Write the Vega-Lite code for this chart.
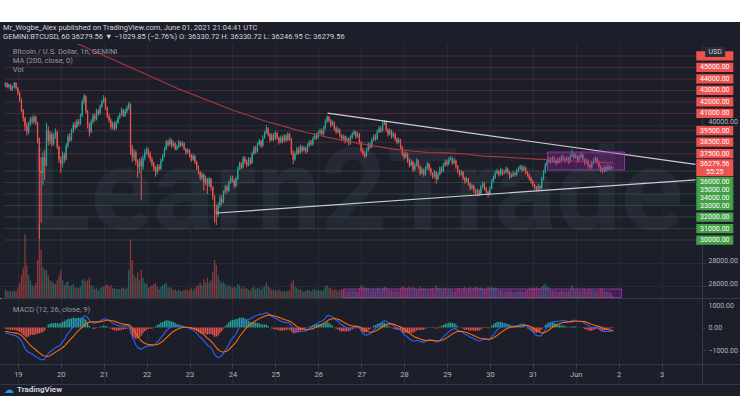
{
"$schema":"https://vega.github.io/schema/vega-lite/v6.json",
"background":"#ffffff",
"padding":{"top":22,"left":0,"right":0,"bottom":0},
"spacing":0,
"config":{"font":"Roboto","view":{"stroke":null,"fill":"#1c1f2a"}},
"datasets":{
"bars":[
{"t":-7,"o":43400,"h":43750,"l":43300,"c":43600,"v":320,"m":-230,"s":-170,"d":-60},
{"t":-6,"o":43600,"h":43700,"l":43200,"c":43300,"v":280,"m":-260,"s":-180,"d":-80},
{"t":-5,"o":43300,"h":43600,"l":43150,"c":43500,"v":260,"m":-290,"s":-200,"d":-90},
{"t":-4,"o":43500,"h":43550,"l":42950,"c":43100,"v":300,"m":-310,"s":-210,"d":-100},
{"t":-3,"o":43100,"h":43400,"l":43000,"c":43300,"v":240,"m":-330,"s":-230,"d":-100},
{"t":-2,"o":43300,"h":43750,"l":43200,"c":43650,"v":310,"m":-350,"s":-240,"d":-110},
{"t":-1,"o":43650,"h":43700,"l":43100,"c":43200,"v":280,"m":-380,"s":-250,"d":-130},
{"t":0,"o":43200,"h":43300,"l":42600,"c":42800,"v":420,"m":-420,"s":-270,"d":-150},
{"t":1,"o":42800,"h":42900,"l":42000,"c":42200,"v":600,"m":-500,"s":-300,"d":-200},
{"t":2,"o":42200,"h":42300,"l":41100,"c":41300,"v":900,"m":-600,"s":-350,"d":-250},
{"t":3,"o":41300,"h":41400,"l":40300,"c":40600,"v":1200,"m":-760,"s":-430,"d":-330},
{"t":4,"o":40600,"h":40700,"l":39500,"c":39900,"v":2500,"m":-920,"s":-520,"d":-400},
{"t":5,"o":39900,"h":40200,"l":39100,"c":39400,"v":1300,"m":-1040,"s":-600,"d":-440},
{"t":6,"o":39400,"h":40300,"l":39200,"c":40100,"v":900,"m":-1100,"s":-700,"d":-400},
{"t":7,"o":40100,"h":40700,"l":39900,"c":40500,"v":700,"m":-1130,"s":-790,"d":-340},
{"t":8,"o":40500,"h":40800,"l":40100,"c":40300,"v":500,"m":-1180,"s":-860,"d":-320},
{"t":9,"o":40300,"h":40900,"l":40100,"c":40700,"v":450,"m":-1250,"s":-920,"d":-330},
{"t":10,"o":40700,"h":40800,"l":40000,"c":40200,"v":600,"m":-1290,"s":-990,"d":-300},
{"t":11,"o":40200,"h":40300,"l":38400,"c":38800,"v":1500,"m":-1340,"s":-1060,"d":-280},
{"t":12,"o":38800,"h":38900,"l":30100,"c":36000,"v":2900,"m":-1390,"s":-1130,"d":-260},
{"t":13,"o":36000,"h":37200,"l":31500,"c":35800,"v":1900,"m":-1420,"s":-1190,"d":-230},
{"t":14,"o":35800,"h":37600,"l":34800,"c":37200,"v":1200,"m":-1440,"s":-1240,"d":-200},
{"t":15,"o":37200,"h":37800,"l":35200,"c":36500,"v":1100,"m":-1400,"s":-1270,"d":-130},
{"t":16,"o":36500,"h":40200,"l":36400,"c":39500,"v":1100,"m":-1280,"s":-1290,"d":10},
{"t":17,"o":39500,"h":39900,"l":38200,"c":38600,"v":900,"m":-1160,"s":-1290,"d":130},
{"t":18,"o":38600,"h":39500,"l":38300,"c":39200,"v":700,"m":-1080,"s":-1250,"d":170},
{"t":19,"o":39200,"h":39400,"l":38100,"c":38400,"v":650,"m":-1010,"s":-1200,"d":190},
{"t":20,"o":38400,"h":39300,"l":38200,"c":39000,"v":600,"m":-960,"s":-1150,"d":190},
{"t":21,"o":39000,"h":39700,"l":38800,"c":39400,"v":550,"m":-900,"s":-1100,"d":200},
{"t":22,"o":39400,"h":39500,"l":37900,"c":38100,"v":700,"m":-860,"s":-1050,"d":190},
{"t":23,"o":38100,"h":38200,"l":36700,"c":37000,"v":900,"m":-820,"s":-1000,"d":180},
{"t":24,"o":37000,"h":37300,"l":35800,"c":36600,"v":1100,"m":-760,"s":-950,"d":190},
{"t":25,"o":36600,"h":37700,"l":36300,"c":37400,"v":700,"m":-640,"s":-890,"d":250},
{"t":26,"o":37400,"h":37600,"l":36700,"c":37000,"v":500,"m":-540,"s":-830,"d":290},
{"t":27,"o":37000,"h":38400,"l":36900,"c":38200,"v":600,"m":-390,"s":-740,"d":350},
{"t":28,"o":38200,"h":39200,"l":38000,"c":39000,"v":650,"m":-260,"s":-650,"d":390},
{"t":29,"o":39000,"h":39300,"l":38500,"c":38700,"v":450,"m":-170,"s":-560,"d":390},
{"t":30,"o":38700,"h":39700,"l":38600,"c":39500,"v":500,"m":-60,"s":-470,"d":410},
{"t":31,"o":39500,"h":40200,"l":39300,"c":40000,"v":550,"m":50,"s":-390,"d":440},
{"t":32,"o":40000,"h":40300,"l":39600,"c":39800,"v":400,"m":120,"s":-300,"d":420},
{"t":33,"o":39800,"h":40500,"l":39700,"c":40300,"v":420,"m":220,"s":-200,"d":420},
{"t":34,"o":40300,"h":40500,"l":39900,"c":40100,"v":380,"m":300,"s":-130,"d":430},
{"t":35,"o":40100,"h":41000,"l":40000,"c":40800,"v":450,"m":370,"s":-60,"d":430},
{"t":36,"o":40800,"h":42200,"l":40700,"c":42000,"v":700,"m":440,"s":20,"d":420},
{"t":37,"o":42000,"h":42700,"l":41800,"c":42500,"v":750,"m":500,"s":90,"d":410},
{"t":38,"o":42500,"h":42600,"l":41000,"c":41200,"v":650,"m":510,"s":160,"d":350},
{"t":39,"o":41200,"h":41300,"l":39700,"c":40000,"v":700,"m":440,"s":210,"d":230},
{"t":40,"o":40000,"h":40200,"l":39000,"c":39400,"v":800,"m":320,"s":240,"d":80},
{"t":41,"o":39400,"h":40500,"l":39300,"c":40300,"v":500,"m":250,"s":250,"d":0},
{"t":42,"o":40300,"h":41000,"l":40100,"c":40800,"v":450,"m":200,"s":250,"d":-50},
{"t":43,"o":40800,"h":41000,"l":40300,"c":40500,"v":350,"m":190,"s":250,"d":-60},
{"t":44,"o":40500,"h":41400,"l":40400,"c":41200,"v":400,"m":220,"s":250,"d":-30},
{"t":45,"o":41200,"h":41400,"l":40800,"c":41000,"v":300,"m":240,"s":250,"d":-10},
{"t":46,"o":41000,"h":41800,"l":40900,"c":41600,"v":380,"m":290,"s":260,"d":30},
{"t":47,"o":41600,"h":42200,"l":41500,"c":42000,"v":420,"m":330,"s":270,"d":60},
{"t":48,"o":42000,"h":42600,"l":41900,"c":42300,"v":450,"m":380,"s":290,"d":90},
{"t":49,"o":42300,"h":42400,"l":41300,"c":41500,"v":500,"m":380,"s":310,"d":70},
{"t":50,"o":41500,"h":41600,"l":40600,"c":40800,"v":550,"m":360,"s":320,"d":40},
{"t":51,"o":40800,"h":41000,"l":40200,"c":40400,"v":450,"m":310,"s":320,"d":-10},
{"t":52,"o":40400,"h":40600,"l":39600,"c":39800,"v":500,"m":250,"s":310,"d":-60},
{"t":53,"o":39800,"h":40300,"l":39600,"c":40100,"v":380,"m":200,"s":300,"d":-100},
{"t":54,"o":40100,"h":40300,"l":39500,"c":39700,"v":400,"m":150,"s":280,"d":-130},
{"t":55,"o":39700,"h":40400,"l":39600,"c":40200,"v":350,"m":110,"s":250,"d":-140},
{"t":56,"o":40200,"h":40800,"l":40100,"c":40600,"v":360,"m":90,"s":220,"d":-130},
{"t":57,"o":40600,"h":41100,"l":40500,"c":40900,"v":340,"m":70,"s":190,"d":-120},
{"t":58,"o":40900,"h":41500,"l":40800,"c":41300,"v":380,"m":70,"s":170,"d":-100},
{"t":59,"o":41300,"h":41400,"l":40700,"c":40800,"v":400,"m":60,"s":150,"d":-90},
{"t":60,"o":40800,"h":41400,"l":40700,"c":41200,"v":350,"m":70,"s":140,"d":-70},
{"t":61,"o":41200,"h":41700,"l":41000,"c":41500,"v":400,"m":80,"s":130,"d":-50},
{"t":62,"o":41500,"h":42000,"l":41300,"c":41800,"v":1100,"m":90,"s":120,"d":-30},
{"t":63,"o":41800,"h":41900,"l":37400,"c":38000,"v":2300,"m":-150,"s":70,"d":-220},
{"t":64,"o":38000,"h":38300,"l":36800,"c":37200,"v":1500,"m":-420,"s":-30,"d":-390},
{"t":65,"o":37200,"h":37900,"l":36900,"c":37600,"v":900,"m":-600,"s":-150,"d":-450},
{"t":66,"o":37600,"h":37800,"l":36500,"c":36800,"v":800,"m":-780,"s":-270,"d":-510},
{"t":67,"o":36800,"h":37000,"l":35400,"c":36300,"v":1000,"m":-880,"s":-400,"d":-480},
{"t":68,"o":36300,"h":37100,"l":35800,"c":36900,"v":700,"m":-940,"s":-500,"d":-440},
{"t":69,"o":36900,"h":37200,"l":33500,"c":36400,"v":1100,"m":-960,"s":-590,"d":-370},
{"t":70,"o":36400,"h":37400,"l":36100,"c":37100,"v":800,"m":-920,"s":-660,"d":-260},
{"t":71,"o":37100,"h":37900,"l":36900,"c":37600,"v":600,"m":-870,"s":-700,"d":-170},
{"t":72,"o":37600,"h":38100,"l":37400,"c":37800,"v":550,"m":-830,"s":-730,"d":-100},
{"t":73,"o":37800,"h":38000,"l":37200,"c":37500,"v":400,"m":-810,"s":-750,"d":-60},
{"t":74,"o":37500,"h":37700,"l":36800,"c":37000,"v":450,"m":-820,"s":-760,"d":-60},
{"t":75,"o":37000,"h":37200,"l":36400,"c":36600,"v":500,"m":-820,"s":-770,"d":-50},
{"t":76,"o":36600,"h":36800,"l":36000,"c":36200,"v":550,"m":-800,"s":-780,"d":-20},
{"t":77,"o":36200,"h":36400,"l":35500,"c":35900,"v":600,"m":-730,"s":-770,"d":40},
{"t":78,"o":35900,"h":36600,"l":35700,"c":36400,"v":450,"m":-640,"s":-750,"d":110},
{"t":79,"o":36400,"h":36600,"l":36000,"c":36200,"v":350,"m":-560,"s":-720,"d":160},
{"t":80,"o":36200,"h":37100,"l":36100,"c":36900,"v":450,"m":-450,"s":-670,"d":220},
{"t":81,"o":36900,"h":37500,"l":36800,"c":37300,"v":500,"m":-360,"s":-610,"d":250},
{"t":82,"o":37300,"h":38100,"l":37200,"c":37900,"v":550,"m":-250,"s":-540,"d":290},
{"t":83,"o":37900,"h":38700,"l":37800,"c":38500,"v":600,"m":-140,"s":-460,"d":320},
{"t":84,"o":38500,"h":38700,"l":38100,"c":38300,"v":400,"m":-70,"s":-380,"d":310},
{"t":85,"o":38300,"h":38900,"l":38200,"c":38700,"v":450,"m":-10,"s":-310,"d":300},
{"t":86,"o":38700,"h":38800,"l":38000,"c":38200,"v":380,"m":30,"s":-240,"d":270},
{"t":87,"o":38200,"h":38600,"l":38100,"c":38400,"v":300,"m":60,"s":-180,"d":240},
{"t":88,"o":38400,"h":38500,"l":37800,"c":37900,"v":350,"m":70,"s":-130,"d":200},
{"t":89,"o":37900,"h":38300,"l":37800,"c":38100,"v":280,"m":70,"s":-90,"d":160},
{"t":90,"o":38100,"h":38700,"l":38000,"c":38500,"v":320,"m":80,"s":-50,"d":130},
{"t":91,"o":38500,"h":38600,"l":38100,"c":38200,"v":260,"m":80,"s":-20,"d":100},
{"t":92,"o":38200,"h":38600,"l":38100,"c":38400,"v":280,"m":70,"s":0,"d":70},
{"t":93,"o":38400,"h":38500,"l":37800,"c":37900,"v":300,"m":40,"s":10,"d":30},
{"t":94,"o":37900,"h":38000,"l":37400,"c":37600,"v":350,"m":10,"s":10,"d":0},
{"t":95,"o":37600,"h":38000,"l":37500,"c":37800,"v":300,"m":-10,"s":10,"d":-20},
{"t":96,"o":37800,"h":37900,"l":37200,"c":37400,"v":330,"m":-40,"s":0,"d":-40},
{"t":97,"o":37400,"h":37500,"l":36800,"c":37000,"v":380,"m":-90,"s":-10,"d":-80},
{"t":98,"o":37000,"h":37500,"l":36900,"c":37300,"v":300,"m":-120,"s":-30,"d":-90},
{"t":99,"o":37300,"h":37400,"l":36600,"c":36800,"v":380,"m":-170,"s":-60,"d":-110},
{"t":100,"o":36800,"h":36900,"l":36100,"c":36300,"v":450,"m":-250,"s":-100,"d":-150},
{"t":101,"o":36300,"h":36500,"l":35700,"c":35900,"v":520,"m":-340,"s":-140,"d":-200},
{"t":102,"o":35900,"h":36000,"l":35200,"c":35400,"v":600,"m":-440,"s":-190,"d":-250},
{"t":103,"o":35400,"h":35900,"l":35200,"c":35700,"v":500,"m":-500,"s":-250,"d":-250},
{"t":104,"o":35700,"h":35800,"l":34300,"c":35000,"v":750,"m":-600,"s":-320,"d":-280},
{"t":105,"o":35000,"h":35600,"l":34800,"c":35300,"v":600,"m":-680,"s":-390,"d":-290},
{"t":106,"o":35300,"h":35400,"l":34000,"c":34800,"v":800,"m":-780,"s":-470,"d":-310},
{"t":107,"o":34800,"h":35500,"l":34600,"c":35300,"v":600,"m":-830,"s":-540,"d":-290},
{"t":108,"o":35300,"h":35400,"l":34300,"c":34600,"v":700,"m":-900,"s":-610,"d":-290},
{"t":109,"o":34600,"h":34700,"l":33500,"c":33800,"v":1000,"m":-1020,"s":-690,"d":-330},
{"t":110,"o":33800,"h":33900,"l":31500,"c":32600,"v":1500,"m":-1200,"s":-790,"d":-410},
{"t":111,"o":32600,"h":33100,"l":31300,"c":32200,"v":1300,"m":-1290,"s":-890,"d":-400},
{"t":112,"o":32200,"h":33300,"l":32000,"c":33000,"v":900,"m":-1330,"s":-980,"d":-350},
{"t":113,"o":33000,"h":33900,"l":32800,"c":33600,"v":700,"m":-1300,"s":-1040,"d":-260},
{"t":114,"o":33600,"h":33900,"l":33000,"c":33300,"v":600,"m":-1250,"s":-1080,"d":-170},
{"t":115,"o":33300,"h":34300,"l":33200,"c":34100,"v":650,"m":-1140,"s":-1090,"d":-50},
{"t":116,"o":34100,"h":34800,"l":34000,"c":34600,"v":550,"m":-1000,"s":-1070,"d":70},
{"t":117,"o":34600,"h":34800,"l":34100,"c":34300,"v":450,"m":-890,"s":-1040,"d":150},
{"t":118,"o":34300,"h":35200,"l":34200,"c":35000,"v":500,"m":-750,"s":-980,"d":230},
{"t":119,"o":35000,"h":35600,"l":34900,"c":35400,"v":450,"m":-600,"s":-900,"d":300},
{"t":120,"o":35400,"h":35600,"l":35000,"c":35200,"v":400,"m":-480,"s":-820,"d":340},
{"t":121,"o":35200,"h":35300,"l":34500,"c":34700,"v":450,"m":-400,"s":-740,"d":340},
{"t":122,"o":34700,"h":35500,"l":34600,"c":35300,"v":400,"m":-280,"s":-650,"d":370},
{"t":123,"o":35300,"h":36400,"l":35200,"c":36200,"v":550,"m":-120,"s":-520,"d":400},
{"t":124,"o":36200,"h":36800,"l":36100,"c":36600,"v":500,"m":40,"s":-400,"d":440},
{"t":125,"o":36600,"h":36800,"l":36100,"c":36300,"v":380,"m":130,"s":-300,"d":430},
{"t":126,"o":36300,"h":37300,"l":36200,"c":37100,"v":450,"m":250,"s":-190,"d":440},
{"t":127,"o":37100,"h":37300,"l":36600,"c":36800,"v":350,"m":310,"s":-90,"d":400},
{"t":128,"o":36800,"h":37000,"l":36300,"c":36500,"v":380,"m":330,"s":0,"d":330},
{"t":129,"o":36500,"h":37200,"l":36400,"c":37000,"v":320,"m":370,"s":70,"d":300},
{"t":130,"o":37000,"h":37200,"l":36500,"c":36700,"v":300,"m":380,"s":130,"d":250},
{"t":131,"o":36700,"h":37700,"l":36600,"c":37500,"v":400,"m":430,"s":190,"d":240},
{"t":132,"o":37500,"h":38200,"l":37400,"c":38000,"v":450,"m":490,"s":250,"d":240},
{"t":133,"o":38000,"h":38200,"l":37500,"c":37700,"v":350,"m":510,"s":300,"d":210},
{"t":134,"o":37700,"h":38500,"l":37600,"c":38300,"v":400,"m":550,"s":350,"d":200},
{"t":135,"o":38300,"h":38800,"l":38200,"c":38600,"v":380,"m":590,"s":400,"d":190},
{"t":136,"o":38600,"h":38700,"l":38000,"c":38200,"v":330,"m":580,"s":430,"d":150},
{"t":137,"o":38200,"h":39100,"l":38100,"c":38900,"v":420,"m":600,"s":470,"d":130},
{"t":138,"o":38900,"h":39500,"l":38800,"c":39300,"v":450,"m":630,"s":500,"d":130},
{"t":139,"o":39300,"h":40000,"l":39200,"c":39700,"v":600,"m":660,"s":530,"d":130},
{"t":140,"o":39700,"h":39800,"l":39000,"c":39200,"v":450,"m":620,"s":550,"d":70},
{"t":141,"o":39200,"h":39300,"l":38500,"c":38700,"v":400,"m":550,"s":550,"d":0},
{"t":142,"o":38700,"h":39300,"l":38600,"c":39100,"v":330,"m":500,"s":540,"d":-40},
{"t":143,"o":39100,"h":39300,"l":38600,"c":38800,"v":300,"m":440,"s":520,"d":-80},
{"t":144,"o":38800,"h":39500,"l":38700,"c":39300,"v":320,"m":420,"s":500,"d":-80},
{"t":145,"o":39300,"h":39400,"l":38700,"c":38900,"v":300,"m":380,"s":480,"d":-100},
{"t":146,"o":38900,"h":39000,"l":38300,"c":38500,"v":330,"m":320,"s":450,"d":-130},
{"t":147,"o":38500,"h":39100,"l":38400,"c":38900,"v":280,"m":290,"s":420,"d":-130},
{"t":148,"o":38900,"h":39100,"l":38400,"c":38600,"v":260,"m":250,"s":390,"d":-140},
{"t":149,"o":38600,"h":39200,"l":38500,"c":39000,"v":270,"m":240,"s":360,"d":-120},
{"t":150,"o":39000,"h":39200,"l":38500,"c":38700,"v":250,"m":210,"s":330,"d":-120},
{"t":151,"o":38700,"h":39400,"l":38600,"c":39200,"v":300,"m":220,"s":310,"d":-90},
{"t":152,"o":39200,"h":39300,"l":38600,"c":38800,"v":300,"m":190,"s":280,"d":-90},
{"t":153,"o":38800,"h":38900,"l":37400,"c":37600,"v":600,"m":60,"s":240,"d":-180},
{"t":154,"o":37600,"h":37800,"l":36600,"c":37000,"v":700,"m":-80,"s":170,"d":-250},
{"t":155,"o":37000,"h":37700,"l":36900,"c":37500,"v":450,"m":-150,"s":110,"d":-260},
{"t":156,"o":37500,"h":38100,"l":37400,"c":37900,"v":400,"m":-170,"s":50,"d":-220},
{"t":157,"o":37900,"h":38100,"l":37400,"c":37600,"v":320,"m":-200,"s":0,"d":-200},
{"t":158,"o":37600,"h":38300,"l":37500,"c":38100,"v":350,"m":-190,"s":-40,"d":-150},
{"t":159,"o":38100,"h":38200,"l":37600,"c":37800,"v":280,"m":-180,"s":-70,"d":-110},
{"t":160,"o":37800,"h":38200,"l":37700,"c":38000,"v":260,"m":-160,"s":-90,"d":-70},
{"t":161,"o":38000,"h":38100,"l":37500,"c":37700,"v":280,"m":-150,"s":-100,"d":-50},
{"t":162,"o":37700,"h":38400,"l":37600,"c":38200,"v":300,"m":-100,"s":-100,"d":0},
{"t":163,"o":38200,"h":38700,"l":38100,"c":38500,"v":320,"m":-40,"s":-90,"d":50},
{"t":164,"o":38500,"h":38700,"l":38200,"c":38300,"v":260,"m":0,"s":-70,"d":70},
{"t":165,"o":38300,"h":39000,"l":38200,"c":38800,"v":330,"m":60,"s":-50,"d":110},
{"t":166,"o":38800,"h":39300,"l":38700,"c":39100,"v":350,"m":130,"s":-10,"d":140},
{"t":167,"o":39100,"h":39300,"l":38700,"c":38900,"v":280,"m":160,"s":20,"d":140},
{"t":168,"o":38900,"h":39500,"l":38800,"c":39300,"v":320,"m":210,"s":60,"d":150},
{"t":169,"o":39300,"h":39700,"l":39200,"c":39500,"v":300,"m":260,"s":100,"d":160},
{"t":170,"o":39500,"h":39700,"l":39100,"c":39200,"v":280,"m":280,"s":140,"d":140},
{"t":171,"o":39200,"h":39900,"l":39100,"c":39700,"v":330,"m":330,"s":180,"d":150},
{"t":172,"o":39700,"h":40500,"l":39600,"c":40300,"v":450,"m":420,"s":230,"d":190},
{"t":173,"o":40300,"h":40850,"l":40200,"c":40700,"v":500,"m":520,"s":290,"d":230},
{"t":174,"o":40700,"h":40800,"l":40200,"c":40400,"v":380,"m":540,"s":340,"d":200},
{"t":175,"o":40400,"h":40500,"l":39800,"c":40000,"v":400,"m":500,"s":370,"d":130},
{"t":176,"o":40000,"h":40400,"l":39900,"c":40200,"v":300,"m":470,"s":390,"d":80},
{"t":177,"o":40200,"h":40300,"l":39500,"c":39700,"v":350,"m":410,"s":400,"d":10},
{"t":178,"o":39700,"h":39900,"l":39200,"c":39400,"v":330,"m":330,"s":390,"d":-60},
{"t":179,"o":39400,"h":39800,"l":39300,"c":39600,"v":270,"m":280,"s":370,"d":-90},
{"t":180,"o":39600,"h":39700,"l":38900,"c":39100,"v":330,"m":200,"s":340,"d":-140},
{"t":181,"o":39100,"h":39200,"l":38600,"c":38800,"v":350,"m":120,"s":300,"d":-180},
{"t":182,"o":38800,"h":39200,"l":38700,"c":39000,"v":280,"m":80,"s":250,"d":-170},
{"t":183,"o":39000,"h":39100,"l":38400,"c":38600,"v":320,"m":20,"s":200,"d":-180},
{"t":184,"o":38600,"h":39000,"l":38500,"c":38800,"v":260,"m":-10,"s":160,"d":-170},
{"t":185,"o":38800,"h":38900,"l":38200,"c":38400,"v":300,"m":-50,"s":120,"d":-170},
{"t":186,"o":38400,"h":39100,"l":38300,"c":38900,"v":290,"m":-40,"s":90,"d":-130},
{"t":187,"o":38900,"h":39400,"l":38800,"c":39200,"v":300,"m":-10,"s":70,"d":-80},
{"t":188,"o":39200,"h":39600,"l":39100,"c":39400,"v":320,"m":20,"s":60,"d":-40},
{"t":189,"o":39400,"h":39500,"l":38800,"c":39000,"v":280,"m":20,"s":50,"d":-30},
{"t":190,"o":39000,"h":39400,"l":38900,"c":39200,"v":250,"m":30,"s":50,"d":-20},
{"t":191,"o":39200,"h":39300,"l":38300,"c":38500,"v":380,"m":-20,"s":30,"d":-50},
{"t":192,"o":38500,"h":38600,"l":37600,"c":37800,"v":500,"m":-140,"s":0,"d":-140},
{"t":193,"o":37800,"h":38000,"l":37300,"c":37500,"v":450,"m":-250,"s":-50,"d":-200},
{"t":194,"o":37500,"h":37700,"l":37100,"c":37300,"v":400,"m":-330,"s":-110,"d":-220},
{"t":195,"o":37300,"h":38000,"l":37200,"c":37800,"v":380,"m":-340,"s":-160,"d":-180},
{"t":196,"o":37800,"h":38500,"l":37700,"c":38300,"v":400,"m":-310,"s":-190,"d":-120},
{"t":197,"o":38300,"h":38500,"l":37900,"c":38100,"v":300,"m":-280,"s":-210,"d":-70},
{"t":198,"o":38100,"h":38900,"l":38000,"c":38700,"v":350,"m":-200,"s":-210,"d":10},
{"t":199,"o":38700,"h":39200,"l":38600,"c":39000,"v":380,"m":-110,"s":-190,"d":80},
{"t":200,"o":39000,"h":39200,"l":38600,"c":38800,"v":280,"m":-50,"s":-160,"d":110},
{"t":201,"o":38800,"h":39600,"l":38700,"c":39400,"v":350,"m":40,"s":-120,"d":160},
{"t":202,"o":39400,"h":39900,"l":39300,"c":39700,"v":380,"m":130,"s":-70,"d":200},
{"t":203,"o":39700,"h":39900,"l":39300,"c":39500,"v":300,"m":180,"s":-20,"d":200},
{"t":204,"o":39500,"h":40300,"l":39400,"c":40100,"v":400,"m":250,"s":40,"d":210},
{"t":205,"o":40100,"h":40450,"l":40000,"c":40300,"v":450,"m":310,"s":90,"d":220},
{"t":206,"o":40300,"h":40400,"l":39400,"c":39600,"v":420,"m":280,"s":130,"d":150},
{"t":207,"o":39600,"h":39700,"l":39000,"c":39200,"v":380,"m":230,"s":150,"d":80},
{"t":208,"o":39200,"h":39700,"l":39100,"c":39500,"v":300,"m":200,"s":160,"d":40},
{"t":209,"o":39500,"h":39600,"l":38800,"c":39000,"v":330,"m":140,"s":160,"d":-20},
{"t":210,"o":39000,"h":39400,"l":38900,"c":39200,"v":280,"m":100,"s":150,"d":-50},
{"t":211,"o":39200,"h":39300,"l":38600,"c":38800,"v":300,"m":40,"s":120,"d":-80},
{"t":212,"o":38800,"h":38900,"l":38300,"c":38500,"v":320,"m":-20,"s":90,"d":-110},
{"t":213,"o":38500,"h":38900,"l":38400,"c":38700,"v":260,"m":-50,"s":60,"d":-110},
{"t":214,"o":38700,"h":38800,"l":37900,"c":38100,"v":380,"m":-120,"s":30,"d":-150},
{"t":215,"o":38100,"h":38200,"l":37300,"c":37500,"v":450,"m":-220,"s":-20,"d":-200},
{"t":216,"o":37500,"h":37700,"l":37000,"c":37200,"v":420,"m":-320,"s":-80,"d":-240},
{"t":217,"o":37200,"h":37700,"l":37100,"c":37500,"v":330,"m":-360,"s":-130,"d":-230},
{"t":218,"o":37500,"h":37600,"l":36700,"c":36900,"v":400,"m":-430,"s":-190,"d":-240},
{"t":219,"o":36900,"h":37100,"l":36300,"c":36500,"v":450,"m":-510,"s":-250,"d":-260},
{"t":220,"o":36500,"h":37000,"l":36400,"c":36800,"v":330,"m":-540,"s":-310,"d":-230},
{"t":221,"o":36800,"h":36900,"l":35900,"c":36100,"v":450,"m":-600,"s":-370,"d":-230},
{"t":222,"o":36100,"h":36700,"l":36000,"c":36500,"v":380,"m":-610,"s":-420,"d":-190},
{"t":223,"o":36500,"h":37100,"l":36400,"c":36900,"v":330,"m":-580,"s":-450,"d":-130},
{"t":224,"o":36900,"h":37000,"l":36200,"c":36400,"v":350,"m":-580,"s":-480,"d":-100},
{"t":225,"o":36400,"h":36500,"l":35600,"c":35800,"v":450,"m":-630,"s":-510,"d":-120},
{"t":226,"o":35800,"h":36300,"l":35700,"c":36100,"v":350,"m":-640,"s":-540,"d":-100},
{"t":227,"o":36100,"h":36200,"l":35500,"c":35700,"v":380,"m":-660,"s":-560,"d":-100},
{"t":228,"o":35700,"h":36400,"l":35600,"c":36200,"v":330,"m":-630,"s":-580,"d":-50},
{"t":229,"o":36200,"h":36800,"l":36100,"c":36600,"v":350,"m":-570,"s":-580,"d":10},
{"t":230,"o":36600,"h":36700,"l":36000,"c":36200,"v":300,"m":-550,"s":-570,"d":20},
{"t":231,"o":36200,"h":36300,"l":35600,"c":35800,"v":350,"m":-560,"s":-570,"d":10},
{"t":232,"o":35800,"h":35900,"l":35300,"c":35500,"v":380,"m":-590,"s":-570,"d":-20},
{"t":233,"o":35500,"h":36100,"l":35400,"c":35900,"v":300,"m":-590,"s":-580,"d":-10},
{"t":234,"o":35900,"h":36000,"l":34900,"c":35300,"v":500,"m":-640,"s":-590,"d":-50},
{"t":235,"o":35300,"h":35900,"l":35200,"c":35700,"v":380,"m":-630,"s":-600,"d":-30},
{"t":236,"o":35700,"h":36400,"l":35600,"c":36200,"v":400,"m":-560,"s":-590,"d":30},
{"t":237,"o":36200,"h":36400,"l":35800,"c":36000,"v":300,"m":-500,"s":-570,"d":70},
{"t":238,"o":36000,"h":36700,"l":35900,"c":36500,"v":350,"m":-420,"s":-540,"d":120},
{"t":239,"o":36500,"h":37000,"l":36400,"c":36800,"v":380,"m":-330,"s":-500,"d":170},
{"t":240,"o":36800,"h":37000,"l":36400,"c":36600,"v":300,"m":-270,"s":-450,"d":180},
{"t":241,"o":36600,"h":37200,"l":36500,"c":37000,"v":330,"m":-190,"s":-400,"d":210},
{"t":242,"o":37000,"h":37300,"l":36900,"c":37100,"v":350,"m":-120,"s":-340,"d":220},
{"t":243,"o":37100,"h":37200,"l":36500,"c":36700,"v":300,"m":-90,"s":-290,"d":200},
{"t":244,"o":36700,"h":37100,"l":36600,"c":36900,"v":260,"m":-50,"s":-240,"d":190},
{"t":245,"o":36900,"h":37000,"l":36200,"c":36400,"v":330,"m":-60,"s":-200,"d":140},
{"t":246,"o":36400,"h":36500,"l":35800,"c":36000,"v":380,"m":-110,"s":-170,"d":60},
{"t":247,"o":36000,"h":36100,"l":35500,"c":35700,"v":400,"m":-170,"s":-170,"d":0},
{"t":248,"o":35700,"h":36100,"l":35600,"c":35900,"v":300,"m":-190,"s":-170,"d":-20},
{"t":249,"o":35900,"h":36000,"l":35200,"c":35400,"v":380,"m":-240,"s":-180,"d":-60},
{"t":250,"o":35400,"h":35500,"l":34900,"c":35100,"v":420,"m":-300,"s":-200,"d":-100},
{"t":251,"o":35100,"h":35500,"l":35000,"c":35300,"v":300,"m":-320,"s":-220,"d":-100},
{"t":252,"o":35300,"h":35400,"l":34700,"c":34900,"v":380,"m":-370,"s":-250,"d":-120},
{"t":253,"o":34900,"h":35000,"l":34300,"c":34500,"v":450,"m":-430,"s":-290,"d":-140},
{"t":254,"o":34500,"h":34900,"l":34400,"c":34700,"v":330,"m":-450,"s":-320,"d":-130},
{"t":255,"o":34700,"h":34800,"l":34100,"c":34300,"v":400,"m":-500,"s":-360,"d":-140},
{"t":256,"o":34300,"h":34400,"l":33900,"c":34100,"v":450,"m":-550,"s":-400,"d":-150},
{"t":257,"o":34100,"h":34500,"l":33800,"c":34300,"v":420,"m":-570,"s":-430,"d":-140},
{"t":258,"o":34300,"h":34400,"l":33800,"c":34000,"v":380,"m":-600,"s":-470,"d":-130},
{"t":259,"o":34000,"h":34800,"l":33900,"c":34600,"v":400,"m":-580,"s":-490,"d":-90},
{"t":260,"o":34600,"h":35100,"l":34500,"c":34900,"v":380,"m":-530,"s":-500,"d":-30},
{"t":261,"o":34900,"h":35000,"l":34300,"c":34500,"v":330,"m":-520,"s":-500,"d":-20},
{"t":262,"o":34500,"h":34600,"l":34000,"c":34200,"v":350,"m":-530,"s":-510,"d":-20},
{"t":263,"o":34200,"h":34300,"l":33700,"c":34000,"v":450,"m":-550,"s":-520,"d":-30},
{"t":264,"o":34000,"h":34700,"l":33900,"c":34500,"v":400,"m":-510,"s":-520,"d":10},
{"t":265,"o":34500,"h":35300,"l":34400,"c":35100,"v":450,"m":-420,"s":-500,"d":80},
{"t":266,"o":35100,"h":35600,"l":35000,"c":35400,"v":380,"m":-320,"s":-460,"d":140},
{"t":267,"o":35400,"h":36000,"l":35300,"c":35800,"v":400,"m":-210,"s":-410,"d":200},
{"t":268,"o":35800,"h":36200,"l":35700,"c":36000,"v":380,"m":-110,"s":-350,"d":240},
{"t":269,"o":36000,"h":36100,"l":35500,"c":35700,"v":300,"m":-50,"s":-290,"d":240},
{"t":270,"o":35700,"h":36300,"l":35600,"c":36100,"v":320,"m":20,"s":-230,"d":250},
{"t":271,"o":36100,"h":36200,"l":35600,"c":35800,"v":280,"m":50,"s":-170,"d":220},
{"t":272,"o":35800,"h":36100,"l":35700,"c":35900,"v":250,"m":80,"s":-120,"d":200},
{"t":273,"o":35900,"h":36400,"l":35800,"c":36200,"v":300,"m":120,"s":-70,"d":190},
{"t":274,"o":36200,"h":36300,"l":35700,"c":35900,"v":280,"m":130,"s":-30,"d":160},
{"t":275,"o":35900,"h":36000,"l":35300,"c":35500,"v":330,"m":100,"s":0,"d":100},
{"t":276,"o":35500,"h":35800,"l":35400,"c":35600,"v":260,"m":80,"s":20,"d":60},
{"t":277,"o":35600,"h":36000,"l":35500,"c":35800,"v":250,"m":70,"s":30,"d":40},
{"t":278,"o":35800,"h":35900,"l":35500,"c":35700,"v":220,"m":60,"s":40,"d":20},
{"t":279,"o":35700,"h":36200,"l":35600,"c":36000,"v":260,"m":70,"s":50,"d":20},
{"t":280,"o":36000,"h":36400,"l":35900,"c":36200,"v":280,"m":100,"s":60,"d":40},
{"t":281,"o":36200,"h":36550,"l":36100,"c":36400,"v":300,"m":140,"s":70,"d":70},
{"t":282,"o":36400,"h":36500,"l":35900,"c":36100,"v":260,"m":140,"s":80,"d":60},
{"t":283,"o":36100,"h":36500,"l":36000,"c":36300,"v":240,"m":150,"s":90,"d":60},
{"t":284,"o":36300,"h":36400,"l":35700,"c":35900,"v":300,"m":110,"s":100,"d":10},
{"t":285,"o":35900,"h":36000,"l":35500,"c":35700,"v":320,"m":50,"s":90,"d":-40},
{"t":286,"o":35700,"h":35800,"l":35200,"c":35400,"v":350,"m":-20,"s":70,"d":-90},
{"t":287,"o":35400,"h":35500,"l":34900,"c":35100,"v":380,"m":-110,"s":30,"d":-140},
{"t":288,"o":35100,"h":35200,"l":34600,"c":34800,"v":420,"m":-200,"s":-10,"d":-190},
{"t":289,"o":34800,"h":34900,"l":34400,"c":34600,"v":380,"m":-280,"s":-60,"d":-220},
{"t":290,"o":34600,"h":34700,"l":34200,"c":34400,"v":450,"m":-350,"s":-110,"d":-240},
{"t":291,"o":34400,"h":34900,"l":34300,"c":34700,"v":380,"m":-370,"s":-160,"d":-210},
{"t":292,"o":34700,"h":34800,"l":34300,"c":34500,"v":350,"m":-390,"s":-210,"d":-180},
{"t":293,"o":34500,"h":35500,"l":34400,"c":35300,"v":450,"m":-330,"s":-240,"d":-90},
{"t":294,"o":35300,"h":36100,"l":35200,"c":35900,"v":500,"m":-230,"s":-240,"d":10},
{"t":295,"o":35900,"h":36700,"l":35800,"c":36500,"v":550,"m":-100,"s":-210,"d":110},
{"t":296,"o":36500,"h":37000,"l":36400,"c":36800,"v":450,"m":10,"s":-170,"d":180},
{"t":297,"o":36800,"h":37200,"l":36700,"c":37000,"v":400,"m":120,"s":-110,"d":230},
{"t":298,"o":37000,"h":37200,"l":36600,"c":36800,"v":320,"m":180,"s":-50,"d":230},
{"t":299,"o":36800,"h":37300,"l":36700,"c":37100,"v":300,"m":240,"s":10,"d":230},
{"t":300,"o":37100,"h":37300,"l":36700,"c":36900,"v":280,"m":270,"s":60,"d":210},
{"t":301,"o":36900,"h":37000,"l":36500,"c":36700,"v":300,"m":270,"s":100,"d":170},
{"t":302,"o":36700,"h":37200,"l":36600,"c":37000,"v":260,"m":280,"s":140,"d":140},
{"t":303,"o":37000,"h":37200,"l":36700,"c":36800,"v":250,"m":280,"s":170,"d":110},
{"t":304,"o":36800,"h":37400,"l":36700,"c":37200,"v":300,"m":300,"s":200,"d":100},
{"t":305,"o":37200,"h":37400,"l":36900,"c":37000,"v":280,"m":310,"s":220,"d":90},
{"t":306,"o":37000,"h":37200,"l":36700,"c":36900,"v":250,"m":290,"s":230,"d":60},
{"t":307,"o":36900,"h":37300,"l":36800,"c":37100,"v":260,"m":290,"s":240,"d":50},
{"t":308,"o":37100,"h":37200,"l":36600,"c":36800,"v":280,"m":260,"s":250,"d":10},
{"t":309,"o":36800,"h":37500,"l":36700,"c":37300,"v":330,"m":280,"s":250,"d":30},
{"t":310,"o":37300,"h":37900,"l":37200,"c":37400,"v":500,"m":310,"s":260,"d":50},
{"t":311,"o":37400,"h":37600,"l":37000,"c":37200,"v":350,"m":320,"s":270,"d":50},
{"t":312,"o":37200,"h":37500,"l":37100,"c":37300,"v":300,"m":320,"s":280,"d":40},
{"t":313,"o":37300,"h":37400,"l":36700,"c":36900,"v":350,"m":280,"s":280,"d":0},
{"t":314,"o":36900,"h":37400,"l":36800,"c":37200,"v":280,"m":270,"s":280,"d":-10},
{"t":315,"o":37200,"h":37600,"l":37100,"c":37400,"v":300,"m":280,"s":280,"d":0},
{"t":316,"o":37400,"h":37500,"l":36800,"c":37000,"v":320,"m":250,"s":270,"d":-20},
{"t":317,"o":37000,"h":37100,"l":36500,"c":36700,"v":350,"m":190,"s":260,"d":-70},
{"t":318,"o":36700,"h":37100,"l":36600,"c":36900,"v":280,"m":150,"s":240,"d":-90},
{"t":319,"o":36900,"h":37000,"l":36300,"c":36500,"v":330,"m":90,"s":210,"d":-120},
{"t":320,"o":36500,"h":36600,"l":36100,"c":36300,"v":350,"m":20,"s":170,"d":-150},
{"t":321,"o":36300,"h":36900,"l":36200,"c":36700,"v":300,"m":0,"s":140,"d":-140},
{"t":322,"o":36700,"h":37100,"l":36600,"c":36900,"v":280,"m":0,"s":110,"d":-110},
{"t":323,"o":36900,"h":37300,"l":36800,"c":37100,"v":300,"m":20,"s":90,"d":-70},
{"t":324,"o":37100,"h":37200,"l":36600,"c":36800,"v":280,"m":10,"s":70,"d":-60},
{"t":325,"o":36800,"h":36900,"l":36200,"c":36400,"v":330,"m":-40,"s":50,"d":-90},
{"t":326,"o":36400,"h":36500,"l":35900,"c":36100,"v":380,"m":-110,"s":20,"d":-130},
{"t":327,"o":36100,"h":36300,"l":35800,"c":36000,"v":350,"m":-160,"s":-10,"d":-150},
{"t":328,"o":36000,"h":36500,"l":35900,"c":36300,"v":280,"m":-170,"s":-40,"d":-130},
{"t":329,"o":36300,"h":36400,"l":35900,"c":36100,"v":250,"m":-190,"s":-70,"d":-120},
{"t":330,"o":36100,"h":36600,"l":36000,"c":36400,"v":260,"m":-170,"s":-90,"d":-80},
{"t":331,"o":36400,"h":36500,"l":36100,"c":36200,"v":220,"m":-170,"s":-110,"d":-60},
{"t":332,"o":36200,"h":36450,"l":36150,"c":36330,"v":200,"m":-150,"s":-120,"d":-30},
{"t":333,"o":36330.72,"h":36330.72,"l":36246.95,"c":36279.56,"v":60,"m":-140,"s":-120,"d":-20}
],
"ma":[
{"t":30,"ma":47300},{"t":40,"ma":46610},{"t":50,"ma":45910},{"t":60,"ma":45220},{"t":70,"ma":44520},{"t":80,"ma":43830},{"t":90,"ma":43130},{"t":100,"ma":42520},{"t":110,"ma":41910},{"t":120,"ma":41300},{"t":130,"ma":40780},{"t":140,"ma":40260},{"t":150,"ma":39830},{"t":160,"ma":39390},{"t":170,"ma":39040},{"t":180,"ma":38700},{"t":190,"ma":38430},{"t":200,"ma":38170},{"t":210,"ma":37910},{"t":220,"ma":37740},{"t":230,"ma":37610},{"t":240,"ma":37570},{"t":250,"ma":37480},{"t":260,"ma":37300},{"t":270,"ma":37220},{"t":280,"ma":37130},{"t":290,"ma":37040},{"t":300,"ma":36960},{"t":310,"ma":36870},{"t":320,"ma":36780},{"t":333,"ma":36700}
],
"levels":[
{"p":46000,"k":"resistance"},{"p":45000,"k":"resistance"},{"p":44000,"k":"resistance"},{"p":43000,"k":"resistance"},{"p":42000,"k":"resistance"},{"p":41000,"k":"resistance"},{"p":39500,"k":"resistance"},{"p":38500,"k":"resistance"},{"p":37500,"k":"resistance"},
{"p":36000,"k":"support"},{"p":35000,"k":"support"},{"p":34000,"k":"support"},{"p":33000,"k":"support"},{"p":32000,"k":"support"},{"p":31000,"k":"support"},{"p":30000,"k":"support"}
],
"tri":[{"t1":173.2,"p1":41040,"t2":379,"p2":36570},{"t1":111.4,"p1":32350,"t2":379,"p2":35220}],
"zones":[{"t1":296.3,"t2":339.3,"p1":36087,"p2":37652},{"t1":182,"t2":337.7,"p1":24990,"p2":25740}]
},
"vconcat":[
{
"width":740,"height":22,
"data":{"values":[{"line":1,"txt":"Mr_Wogbe_Alex published on TradingView.com, June 01, 2021 21:04:41 UTC"},{"line":2,"txt":"GEMINI:BTCUSD, 60  36279.56 ▼ −1029.85 (−2.76%)  O: 36330.72  H: 36330.72  L: 36246.95  C: 36279.56"}]},
"mark":{"type":"text","align":"left","baseline":"middle","fontSize":7.5,"color":"#d1d4dc"},
"encoding":{
"x":{"datum":-5.5,"type":"quantitative","scale":{"domain":[-7.2,401.1],"nice":false,"zero":false},"axis":{"orient":"bottom","labels":false,"ticks":false,"grid":false,"domainColor":"#2e3240","title":null}},
"y":{"field":"line","type":"quantitative","scale":{"domain":[0.333,2.778],"reverse":true,"nice":false,"zero":false},"axis":null},
"text":{"field":"txt"}
}
},
{
"width":740,"height":254,
"layer":[
{"data":{"values":[{"txt":"Learn2Trade"}]},
"mark":{"type":"text","align":"center","baseline":"middle","fontSize":115,"fontWeight":"bold","color":"#252935","clip":true},
"encoding":{"x":{"datum":189,"type":"quantitative","scale":{"domain":[-7.2,401.1],"nice":false,"zero":false}},"y":{"datum":33900,"type":"quantitative","scale":{"domain":[24957,47043],"nice":false,"zero":false},"axis":null},"text":{"field":"txt"}}},
{"data":{"name":"bars"},
"mark":{"type":"bar","width":1.3,"opacity":0.5,"clip":true},
"encoding":{"x":{"field":"t","type":"quantitative","scale":{"domain":[-7.2,401.1],"nice":false,"zero":false}},"y":{"field":"v","type":"quantitative","scale":{"domain":[0,10000],"nice":false},"axis":null},
"color":{"condition":{"test":"datum.c >= datum.o","value":"#26a69a"},"value":"#ef5350"}}},
{"layer":[
{"data":{"name":"levels"},
"mark":{"type":"rule","strokeWidth":1,"opacity":0.3},
"encoding":{"x":{"datum":-7.2,"type":"quantitative","scale":{"domain":[-7.2,401.1],"nice":false,"zero":false}},"x2":{"datum":380},"y":{"field":"p","type":"quantitative","scale":{"domain":[24957,47043],"nice":false,"zero":false}},
"color":{"condition":{"test":"datum.k == 'resistance'","value":"#c0474c"},"value":"#43a047"}}},
{"data":{"name":"bars"},
"mark":{"type":"rule","strokeWidth":1,"clip":true},
"encoding":{"x":{"field":"t","type":"quantitative","scale":{"domain":[-7.2,401.1],"nice":false,"zero":false},"axis":{"orient":"bottom","values":[0,24,48,72,96,120,144,168,192,216,240,264,288,312,336,360],"labels":false,"ticks":false,"domainColor":"#363a45","grid":true,"gridColor":"#262a35","title":null}},
"y":{"field":"l","type":"quantitative","scale":{"domain":[24957,47043],"nice":false,"zero":false},"axis":{"orient":"right","offset":-38,"values":[26000,28000,40000],"format":".2f","labelColor":"#b2b5be","labelFontSize":7,"labelPadding":3,"labelBaseline":"bottom","tickSize":3,"tickColor":"#363a45","domainColor":"#363a45","grid":true,"gridColor":"#262a35","title":null}},
"y2":{"field":"h"},
"color":{"condition":{"test":"datum.c >= datum.o","value":"#26a69a"},"value":"#ef5350"}}},
{"data":{"name":"bars"},
"mark":{"type":"bar","width":1.3,"clip":true},
"encoding":{"x":{"field":"t","type":"quantitative","scale":{"domain":[-7.2,401.1],"nice":false,"zero":false}},"y":{"field":"o","type":"quantitative","scale":{"domain":[24957,47043],"nice":false,"zero":false}},"y2":{"field":"c"},
"color":{"condition":{"test":"datum.c >= datum.o","value":"#26a69a"},"value":"#ef5350"}}},
{"data":{"name":"ma"},
"mark":{"type":"line","color":"#a8393d","strokeWidth":1.2,"clip":true},
"encoding":{"x":{"field":"t","type":"quantitative","scale":{"domain":[-7.2,401.1],"nice":false,"zero":false}},"y":{"field":"ma","type":"quantitative","scale":{"domain":[24957,47043],"nice":false,"zero":false}}}},
{"data":{"name":"tri"},
"mark":{"type":"rule","color":"#c9ccd6","strokeWidth":1.2},
"encoding":{"x":{"field":"t1","type":"quantitative","scale":{"domain":[-7.2,401.1],"nice":false,"zero":false}},"x2":{"field":"t2"},"y":{"field":"p1","type":"quantitative","scale":{"domain":[24957,47043],"nice":false,"zero":false}},"y2":{"field":"p2"}}},
{"data":{"name":"zones"},
"mark":{"type":"rect","fill":"#9c27b0","fillOpacity":0.3,"stroke":"#a43cc0","strokeOpacity":0.8,"strokeWidth":1},
"encoding":{"x":{"field":"t1","type":"quantitative","scale":{"domain":[-7.2,401.1],"nice":false,"zero":false}},"x2":{"field":"t2"},"y":{"field":"p1","type":"quantitative","scale":{"domain":[24957,47043],"nice":false,"zero":false}},"y2":{"field":"p2"}}},
{"data":{"name":"levels"},
"mark":{"type":"point","shape":"M-1,-0.25H1V0.25H-1Z","size":1369,"filled":true,"opacity":1,"strokeWidth":0,"yOffset":{"expr":"datum.p == 36000 ? 10.5 : datum.p == 35000 ? 7 : datum.p == 34000 ? 3.5 : 0"}},
"encoding":{"x":{"datum":389.8,"type":"quantitative","scale":{"domain":[-7.2,401.1],"nice":false,"zero":false}},"y":{"field":"p","type":"quantitative","scale":{"domain":[24957,47043],"nice":false,"zero":false}},
"fill":{"condition":{"test":"datum.k == 'resistance'","value":"#ef5350"},"value":"#43a047"}}},
{"data":{"name":"levels"},
"transform":[{"filter":"datum.p != 46000"}],
"mark":{"type":"text","align":"center","baseline":"middle","fontSize":7,"color":"#ffffff","yOffset":{"expr":"datum.p == 36000 ? 10.5 : datum.p == 35000 ? 7 : datum.p == 34000 ? 3.5 : 0"}},
"encoding":{"x":{"datum":389.8,"type":"quantitative","scale":{"domain":[-7.2,401.1],"nice":false,"zero":false}},"y":{"field":"p","type":"quantitative","scale":{"domain":[24957,47043],"nice":false,"zero":false}},"text":{"field":"p","format":".2f"}}},
{"data":{"values":[{"p":36279.56,"cd":"55:25"}]},
"layer":[
{"mark":{"type":"point","shape":"M-1,-0.46H1V0.46H-1Z","size":1369,"filled":true,"opacity":1,"strokeWidth":0,"fill":"#ef5350"},
"encoding":{"x":{"datum":389.8,"type":"quantitative","scale":{"domain":[-7.2,401.1],"nice":false,"zero":false}},"y":{"field":"p","type":"quantitative","scale":{"domain":[24957,47043],"nice":false,"zero":false}}}},
{"mark":{"type":"text","align":"center","baseline":"middle","fontSize":7,"color":"#ffffff","dy":-4},
"encoding":{"x":{"datum":389.8,"type":"quantitative","scale":{"domain":[-7.2,401.1],"nice":false,"zero":false}},"y":{"field":"p","type":"quantitative","scale":{"domain":[24957,47043],"nice":false,"zero":false}},"text":{"field":"p","format":".2f"}}},
{"mark":{"type":"text","align":"center","baseline":"middle","fontSize":7,"color":"#ffffff","dy":4.5},
"encoding":{"x":{"datum":389.8,"type":"quantitative","scale":{"domain":[-7.2,401.1],"nice":false,"zero":false}},"y":{"field":"p","type":"quantitative","scale":{"domain":[24957,47043],"nice":false,"zero":false}},"text":{"field":"cd"}}}
]},
{"data":{"values":[{"p":46350,"u":"USD"}]},
"layer":[
{"mark":{"type":"point","shape":"M-1,-0.5H1V0.5H-1Z","size":400,"filled":true,"opacity":1,"strokeWidth":0,"fill":"#2a2e39"},
"encoding":{"x":{"datum":390,"type":"quantitative","scale":{"domain":[-7.2,401.1],"nice":false,"zero":false}},"y":{"field":"p","type":"quantitative","scale":{"domain":[24957,47043],"nice":false,"zero":false}}}},
{"mark":{"type":"text","align":"center","baseline":"middle","fontSize":7,"color":"#d1d4dc"},
"encoding":{"x":{"datum":390,"type":"quantitative","scale":{"domain":[-7.2,401.1],"nice":false,"zero":false}},"y":{"field":"p","type":"quantitative","scale":{"domain":[24957,47043],"nice":false,"zero":false}},"text":{"field":"u"}}}
]}
]},
{"data":{"values":[{"line":1,"txt":"Bitcoin / U.S. Dollar, 1h, GEMINI"},{"line":2,"txt":"MA (200, close, 0)"},{"line":3,"txt":"Vol"}]},
"mark":{"type":"text","align":"left","baseline":"middle","fontSize":7.5,"color":"#9598a1"},
"encoding":{"x":{"datum":-2.8,"type":"quantitative","scale":{"domain":[-7.2,401.1],"nice":false,"zero":false}},"y":{"field":"line","type":"quantitative","scale":{"domain":[0.111,28.33],"reverse":true,"nice":false,"zero":false},"axis":null},"text":{"field":"txt"}}}
],
"resolve":{"scale":{"y":"independent"}}
},
{
"width":740,"height":85,
"layer":[
{"layer":[
{"data":{"name":"bars"},
"mark":{"type":"bar","width":1.3},
"encoding":{"x":{"field":"t","type":"quantitative","scale":{"domain":[-7.2,401.1],"nice":false,"zero":false},"axis":{"orient":"bottom","offset":-20,"values":[0,24,48,72,96,120,144,168,192,216,240,264,288,312,336,360],"labelExpr":"['19','20','21','22','23','24','25','26','27','28','29','30','31','Jun','2','3'][round(datum.value/24)]","labelColor":"#b2b5be","labelFontSize":7.5,"labelPadding":3,"tickSize":3,"tickColor":"#4a4e5a","domainColor":"#363a45","grid":true,"gridColor":"#262a35","title":null}},
"y":{"field":"d","type":"quantitative","scale":{"domain":[-2511,1267],"nice":false,"zero":false},"axis":{"orient":"right","offset":-38,"values":[-1000,0,1000],"format":".2f","labelColor":"#b2b5be","labelFontSize":7,"labelPadding":3,"tickSize":3,"tickColor":"#363a45","domainColor":"#363a45","grid":false,"title":null}},
"color":{"condition":{"test":"datum.d >= 0","value":"#26a69a"},"value":"#ef5350"}}},
{"data":{"name":"bars"},
"mark":{"type":"line","color":"#2962ff","strokeWidth":1.1},
"encoding":{"x":{"field":"t","type":"quantitative","scale":{"domain":[-7.2,401.1],"nice":false,"zero":false}},"y":{"field":"m","type":"quantitative","scale":{"domain":[-2511,1267],"nice":false,"zero":false}}}},
{"data":{"name":"bars"},
"mark":{"type":"line","color":"#ff6d00","strokeWidth":1.1},
"encoding":{"x":{"field":"t","type":"quantitative","scale":{"domain":[-7.2,401.1],"nice":false,"zero":false}},"y":{"field":"s","type":"quantitative","scale":{"domain":[-2511,1267],"nice":false,"zero":false}}}}
]},
{"data":{"values":[{"line":1,"txt":"MACD (12, 26, close, 9)"}]},
"mark":{"type":"text","align":"left","baseline":"middle","fontSize":7.5,"color":"#9598a1"},
"encoding":{"x":{"datum":-2.8,"type":"quantitative","scale":{"domain":[-7.2,401.1],"nice":false,"zero":false}},"y":{"field":"line","type":"quantitative","scale":{"domain":[-0.222,9.222],"reverse":true,"nice":false,"zero":false},"axis":null},"text":{"field":"txt"}}}
],
"resolve":{"scale":{"y":"independent"}}
},
{
"width":740,"height":12,
"layer":[
{"data":{"values":[{"txt":"☁"}]},
"mark":{"type":"text","align":"center","baseline":"middle","fontSize":10,"color":"#2196f3"},
"encoding":{"x":{"datum":-2.2,"type":"quantitative","scale":{"domain":[-7.2,401.1],"nice":false,"zero":false},"axis":{"orient":"top","labels":false,"ticks":false,"grid":false,"domainColor":"#363a45","title":null}},"text":{"field":"txt"}}},
{"data":{"values":[{"txt":"TradingView"}]},
"mark":{"type":"text","align":"left","baseline":"middle","fontSize":8,"fontWeight":"bold","color":"#d1d4dc"},
"encoding":{"x":{"datum":2.2,"type":"quantitative","scale":{"domain":[-7.2,401.1],"nice":false,"zero":false}},"text":{"field":"txt"}}}
]
}
]
}
